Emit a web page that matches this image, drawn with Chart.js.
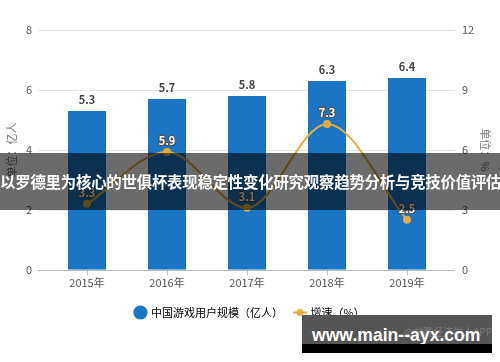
<!DOCTYPE html>
<html lang="zh">
<head>
    <meta charset="UTF-8">
    <title>中国游戏用户规模</title>
    <style>
        body {
            margin: 0;
            width: 500px;
            height: 362px;
            overflow: hidden;
            background: #fff;
            font-family: 'Noto Sans CJK SC', sans-serif;
            position: relative;
        }

        .chart-box {
            position: absolute;
            left: 0;
            top: 0;
            width: 500px;
            height: 362px;
        }

        .banner {
            position: absolute;
            left: 0;
            top: 153px;
            width: 500px;
            height: 57px;
            background: rgba(0, 0, 0, 0.58);
            color: #fff;
            font-weight: bold;
            font-size: 15.4px;
            line-height: 57px;
            text-align: center;
            white-space: nowrap;
            letter-spacing: -0.2px;
        }

        .stamp {
            position: absolute;
            left: 302px;
            top: 315px;
            width: 190px;
            height: 38px;
            background: #555;
            border-bottom: 9px solid #000;
            box-sizing: border-box;
            overflow: hidden;
            white-space: nowrap;
        }

        .stamp .faint {
            position: absolute;
            right: 0;
            top: 9px;
            font-size: 10px;
            color: #7a7a7a;
        }

        .stamp .url {
            position: absolute;
            left: 10px;
            top: 10px;
            color: #fff;
            font-weight: bold;
            font-size: 17.6px;
            line-height: 20px;
            font-family: 'Liberation Sans', Arial, sans-serif;
        }
    </style>
</head>
<body>
    <div class="chart-box">
        <canvas id="gameChart" width="500" height="362"></canvas>
    </div>
    <div class="banner">以罗德里为核心的世俱杯表现稳定性变化研究观察趋势分析与竞技价值评估</div>
    <div class="stamp"><span class="faint">@前瞻经济学人APP</span><span class="url">www.main--ayx.com</span></div>

    <script src="https://cdn.jsdelivr.net/npm/chart.js"></script>
    <script>
        const years = ['2015年', '2016年', '2017年', '2018年', '2019年'];
        const users = [5.3, 5.7, 5.8, 6.3, 6.4];
        const growth = [3.3, 5.9, 3.1, 7.3, 2.5];
        const leftTicks = [0, 2, 4, 6, 8];
        const rightTicks = [0, 3, 6, 9, 12];

        const barColor = '#1a76c4';
        const lineColor = '#e3ac3c';
        const cjk = "'Noto Sans CJK SC', sans-serif";

        // little line + dot marker for the legend
        const lineMark = document.createElement('canvas');
        lineMark.width = 14;
        lineMark.height = 10;
        const lm = lineMark.getContext('2d');
        lm.strokeStyle = lineColor;
        lm.lineWidth = 2;
        lm.beginPath();
        lm.moveTo(0, 5);
        lm.lineTo(14, 5);
        lm.stroke();
        lm.fillStyle = lineColor;
        lm.beginPath();
        lm.arc(7, 5, 3.5, 0, Math.PI * 2);
        lm.fill();

        // horizontal grid that runs a bit past the plot area
        const gridPlugin = {
            id: 'wideGrid',
            beforeDatasetsDraw(chart) {
                const ctx = chart.ctx;
                const area = chart.chartArea;
                const y = chart.scales.y;
                ctx.save();
                leftTicks.forEach(v => {
                    const py = Math.round(y.getPixelForValue(v)) + 0.5;
                    ctx.strokeStyle = v === 0 ? '#bcbcbc' : '#e4e4e4';
                    ctx.lineWidth = 1;
                    ctx.beginPath();
                    ctx.moveTo(area.left - 9, py);
                    ctx.lineTo(area.right + 8, py);
                    ctx.stroke();
                });
                // small ticks under the categories
                const x = chart.scales.x;
                const py = Math.round(y.getPixelForValue(0));
                years.forEach((c, i) => {
                    const px = Math.round(x.getPixelForValue(i)) + 0.5;
                    ctx.strokeStyle = '#bcbcbc';
                    ctx.beginPath();
                    ctx.moveTo(px, py);
                    ctx.lineTo(px, py + 5);
                    ctx.stroke();
                });
                ctx.restore();
            }
        };

        const labelPlugin = {
            id: 'valueLabels',
            afterDatasetsDraw(chart) {
                const ctx = chart.ctx;
                ctx.save();
                ctx.textAlign = 'center';
                ctx.textBaseline = 'bottom';
                ctx.font = 'bold 11px ' + cjk;
                chart.getDatasetMeta(0).data.forEach((bar, i) => {
                    ctx.fillStyle = '#444';
                    ctx.fillText(users[i].toFixed(1), bar.x, bar.y - 6);
                });
                chart.getDatasetMeta(1).data.forEach((pt, i) => {
                    const txt = growth[i].toFixed(1);
                    ctx.lineWidth = 2.5;
                    ctx.strokeStyle = '#555';
                    ctx.strokeText(txt, pt.x, pt.y - 6);
                    ctx.fillStyle = '#fff';
                    ctx.fillText(txt, pt.x, pt.y - 6);
                });
                ctx.restore();
            }
        };

        new Chart(document.getElementById('gameChart'), {
            data: {
                labels: years,
                datasets: [{
                    type: 'bar',
                    label: '中国游戏用户规模（亿人）',
                    data: users,
                    backgroundColor: barColor,
                    yAxisID: 'y',
                    categoryPercentage: 1,
                    barPercentage: 0.475,
                    order: 2
                }, {
                    type: 'line',
                    label: '增速（%）',
                    data: growth,
                    borderColor: lineColor,
                    backgroundColor: lineColor,
                    borderWidth: 2,
                    pointRadius: 4,
                    pointBackgroundColor: lineColor,
                    pointBorderWidth: 0,
                    cubicInterpolationMode: 'monotone',
                    tension: 0.4,
                    yAxisID: 'y1',
                    order: 1
                }]
            },
            options: {
                responsive: false,
                animation: false,
                layout: {
                    padding: { top: 30, right: 0, bottom: 34, left: 0 }
                },
                plugins: {
                    tooltip: { enabled: false },
                    legend: {
                        position: 'bottom',
                        labels: {
                            usePointStyle: true,
                            boxWidth: 10,
                            boxHeight: 10,
                            padding: 12,
                            color: '#444',
                            font: { family: cjk, size: 11 },
                            generateLabels(chart) {
                                return [{
                                    text: '中国游戏用户规模（亿人）',
                                    fillStyle: barColor,
                                    strokeStyle: barColor,
                                    lineWidth: 0,
                                    pointStyle: 'circle',
                                    datasetIndex: 0
                                }, {
                                    text: '增速（%）',
                                    fillStyle: lineColor,
                                    strokeStyle: lineColor,
                                    lineWidth: 0,
                                    pointStyle: lineMark,
                                    datasetIndex: 1
                                }];
                            }
                        }
                    }
                },
                scales: {
                    x: {
                        grid: { display: false, drawTicks: false },
                        border: { display: false },
                        ticks: {
                            color: '#555',
                            padding: 6,
                            font: { family: cjk, size: 11 }
                        }
                    },
                    y: {
                        position: 'left',
                        min: 0,
                        max: 8,
                        afterBuildTicks(scale) {
                            scale.ticks = leftTicks.map(v => ({ value: v }));
                        },
                        afterFit(scale) {
                            scale.width = 47;
                        },
                        grid: { display: false, drawTicks: false },
                        border: { display: false },
                        ticks: {
                            color: '#555',
                            padding: 15,
                            font: { family: cjk, size: 11 }
                        },
                        title: {
                            display: true,
                            text: '单位：亿人',
                            color: '#777',
                            padding: { top: 5, bottom: 0 },
                            font: { family: cjk, size: 11 }
                        }
                    },
                    y1: {
                        position: 'right',
                        min: 0,
                        max: 12,
                        afterBuildTicks(scale) {
                            scale.ticks = rightTicks.map(v => ({ value: v }));
                        },
                        afterFit(scale) {
                            scale.width = 53;
                        },
                        grid: { display: false, drawTicks: false },
                        border: { display: false },
                        ticks: {
                            color: '#555',
                            padding: 15,
                            font: { family: cjk, size: 11 }
                        },
                        title: {
                            display: true,
                            text: '单位：%',
                            color: '#777',
                            padding: { top: 8, bottom: 0 },
                            font: { family: cjk, size: 11 }
                        }
                    }
                }
            },
            plugins: [gridPlugin, labelPlugin]
        });
    </script>
</body>
</html>
